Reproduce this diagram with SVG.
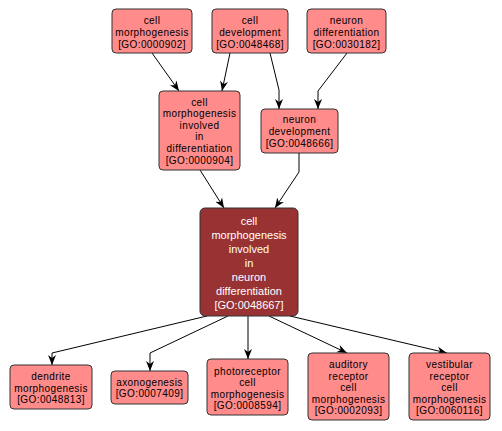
<svg xmlns="http://www.w3.org/2000/svg" width="502" height="431" viewBox="0 0 502 431">
<style>
.n rect{fill:#ff8b8b;stroke:#333;stroke-width:1}
.c rect{fill:#993333;stroke:#333;stroke-width:1}
text{font-family:"Liberation Sans",Arial,sans-serif;font-size:10px;text-anchor:middle;fill:#000;letter-spacing:0.4px}
.c text{fill:#fff;font-size:11px;letter-spacing:0}
.e path{fill:none;stroke:#000;stroke-width:1}
</style>
<defs>
<marker id="a" viewBox="0 0 10 10" refX="10" refY="5" markerWidth="10" markerHeight="10" markerUnits="userSpaceOnUse" orient="auto">
<path d="M0,1 L10,5 L0,9 L3,5 Z" fill="#000"/>
</marker>
</defs>
<g class="e">
<path d="M152,53 L179,91" marker-end="url(#a)"/>
<path d="M230,53 L222,91" marker-end="url(#a)"/>
<path d="M270,53 L279,90 L279,109" marker-end="url(#a)"/>
<path d="M347,53 L318,91 L318,109" marker-end="url(#a)"/>
<path d="M200,170 L224,208" marker-end="url(#a)"/>
<path d="M299,153 L299,172 L275,208" marker-end="url(#a)"/>
<path d="M207,316 L52,353 L52,365" marker-end="url(#a)"/>
<path d="M228,316 L150,353 L150,371" marker-end="url(#a)"/>
<path d="M248,316 L248,359" marker-end="url(#a)"/>
<path d="M269,316 L347,353" marker-end="url(#a)"/>
<path d="M290,316 L447,353" marker-end="url(#a)"/>
</g>
<g id="GO0000902" class="n"><rect x="112" y="9" width="80" height="44" rx="4"/>
<text x="152" y="23.5">cell</text><text x="152" y="35.5">morphogenesis</text><text x="152" y="47.5">[GO:0000902]</text></g>
<g id="GO0048468" class="n"><rect x="212" y="9" width="76" height="44" rx="4"/>
<text x="250" y="23.5">cell</text><text x="250" y="35.5">development</text><text x="250" y="47.5">[GO:0048468]</text></g>
<g id="GO0030182" class="n"><rect x="307" y="9" width="79" height="44" rx="4"/>
<text x="346.5" y="23.5">neuron</text><text x="346.5" y="35.5">differentiation</text><text x="346.5" y="47.5">[GO:0030182]</text></g>
<g id="GO0000904" class="n"><rect x="159" y="91" width="81" height="79" rx="4"/>
<text x="199.5" y="105.5">cell</text><text x="199.5" y="117.1">morphogenesis</text><text x="199.5" y="128.7">involved</text><text x="199.5" y="140.3">in</text><text x="199.5" y="151.9">differentiation</text><text x="199.5" y="163.5">[GO:0000904]</text></g>
<g id="GO0048666" class="n"><rect x="261" y="109" width="77" height="44" rx="4"/>
<text x="299.5" y="123">neuron</text><text x="299.5" y="135">development</text><text x="299.5" y="147">[GO:0048666]</text></g>
<g id="GO0048667" class="c"><rect x="200" y="208" width="98" height="108" rx="5"/>
<text x="249" y="224.5">cell</text><text x="249" y="238.5">morphogenesis</text><text x="249" y="252.5">involved</text><text x="249" y="266.5">in</text><text x="249" y="280.5">neuron</text><text x="249" y="294.5">differentiation</text><text x="249" y="308.5">[GO:0048667]</text></g>
<g id="GO0048813" class="n"><rect x="10" y="365" width="82" height="44" rx="4"/>
<text x="51" y="379.5">dendrite</text><text x="51" y="391.5">morphogenesis</text><text x="51" y="403">[GO:0048813]</text></g>
<g id="GO0007409" class="n"><rect x="111" y="371" width="77" height="33" rx="4"/>
<text x="149.5" y="385.5">axonogenesis</text><text x="149.5" y="397">[GO:0007409]</text></g>
<g id="GO0008594" class="n"><rect x="207" y="359" width="81" height="56" rx="4"/>
<text x="247.5" y="374.5">photoreceptor</text><text x="247.5" y="386">cell</text><text x="247.5" y="397.5">morphogenesis</text><text x="247.5" y="409">[GO:0008594]</text></g>
<g id="GO0002093" class="n"><rect x="308" y="353" width="81" height="67" rx="4"/>
<text x="348.5" y="368">auditory</text><text x="348.5" y="379.5">receptor</text><text x="348.5" y="391">cell</text><text x="348.5" y="402.5">morphogenesis</text><text x="348.5" y="414">[GO:0002093]</text></g>
<g id="GO0060116" class="n"><rect x="409" y="353" width="81" height="67" rx="4"/>
<text x="449.5" y="368">vestibular</text><text x="449.5" y="379.5">receptor</text><text x="449.5" y="391">cell</text><text x="449.5" y="402.5">morphogenesis</text><text x="449.5" y="414">[GO:0060116]</text></g>
</svg>
